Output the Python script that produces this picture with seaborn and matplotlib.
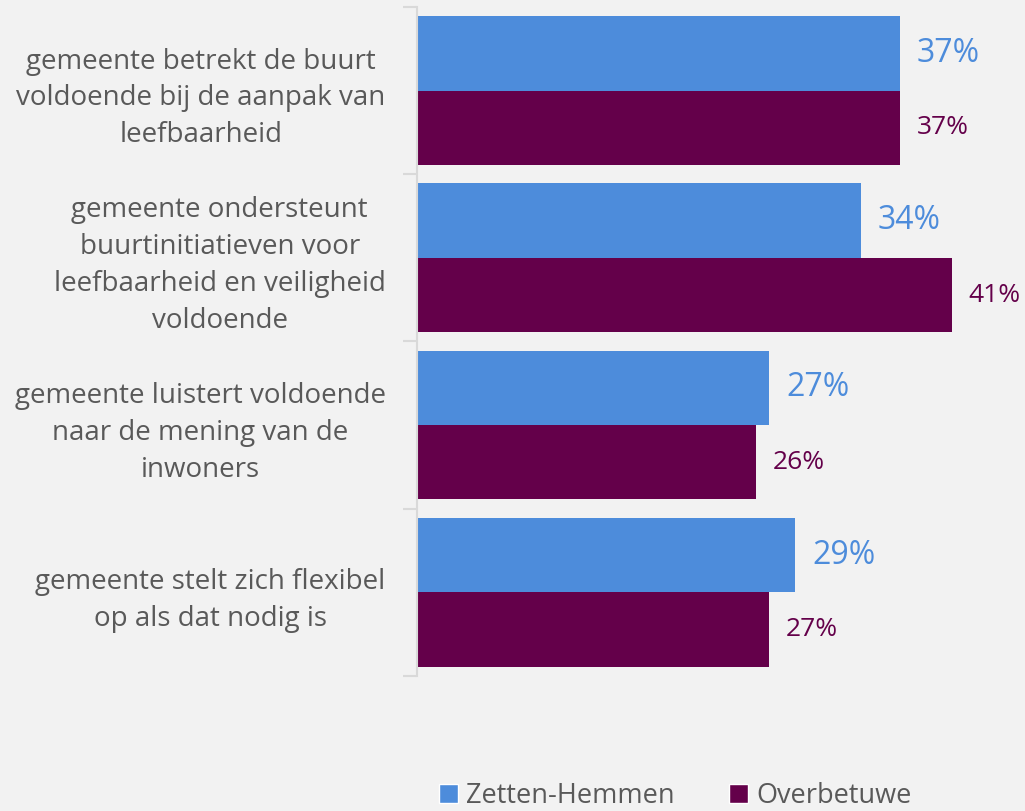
import matplotlib
matplotlib.use("Agg")
import matplotlib.pyplot as plt
from matplotlib.patches import Patch
import pandas as pd
import seaborn as sns

# === data ===
CATEGORIES = [
    "gemeente betrekt de buurt\nvoldoende bij de aanpak van\nleefbaarheid",
    "gemeente ondersteunt\nbuurtinitiatieven voor\nleefbaarheid en veiligheid\nvoldoende",
    "gemeente luistert voldoende\nnaar de mening van de\ninwoners",
    "gemeente stelt zich flexibel\nop als dat nodig is",
]
SERIES = ["Zetten-Hemmen", "Overbetuwe"]
ZETTEN = [37, 34, 27, 29]
OVERBETUWE = [37, 41, 26, 27]

# === style ===
BLUE = "#4D8CDB"
PURPLE = "#64004A"
TEXT_GREY = "#595959"
BG = "#F2F2F2"
AXIS_GREY = "#D9D9D9"

sns.set_style("white")
plt.rcParams["font.family"] = ["Open Sans", "DejaVu Sans"]

df = pd.DataFrame({
    "cat": CATEGORIES * 2,
    "serie": [SERIES[0]] * 4 + [SERIES[1]] * 4,
    "value": ZETTEN + OVERBETUWE,
})

fig = plt.figure(figsize=(10.25, 8.11), dpi=100, facecolor=BG)
ax = fig.add_axes([0.4068, 0.1665, 0.5932, 0.825])
ax.set_facecolor(BG)

sns.barplot(data=df, y="cat", x="value", hue="serie", order=CATEGORIES,
            hue_order=SERIES, palette=[BLUE, PURPLE], width=0.89,
            orient="h", saturation=1, linewidth=0, ax=ax, legend=False)

# value labels
for container, color, size in zip(ax.containers, [BLUE, PURPLE], [23, 19]):
    ax.bar_label(container, labels=[f"{v:.0f}%" for v in container.datavalues],
                 padding=12, color=color, fontsize=size)

ax.set_xlim(0, 46.6)
ax.set_ylim(3.5, -0.5)
ax.set_xlabel("")
ax.set_ylabel("")
ax.set_xticks([])

# category labels, ticks at category boundaries
ax.set_yticks(range(len(CATEGORIES)))
ax.set_yticklabels(CATEGORIES, fontsize=20, color=TEXT_GREY,
                   ha="right", multialignment="center", linespacing=1.42)
ax.tick_params(axis="y", which="major", left=False, pad=19)
ax.set_yticks([-0.5, 0.5, 1.5, 2.5, 3.5], minor=True)
ax.tick_params(axis="y", which="minor", left=True, length=10, width=1.5,
               color=AXIS_GREY)

for side in ["top", "right", "bottom"]:
    ax.spines[side].set_visible(False)
ax.spines["left"].set_color(AXIS_GREY)
ax.spines["left"].set_linewidth(1.5)

handles = [Patch(facecolor=BLUE, label=SERIES[0]),
           Patch(facecolor=PURPLE, label=SERIES[1])]
fig.legend(handles=handles, loc="center", bbox_to_anchor=(0.659, 0.019),
           ncol=2, frameon=False, fontsize=19.5, labelcolor=TEXT_GREY,
           handlelength=0.7, handleheight=0.7, handletextpad=0.3,
           columnspacing=2.0)

fig.savefig("out.png", dpi=100, facecolor=BG)
